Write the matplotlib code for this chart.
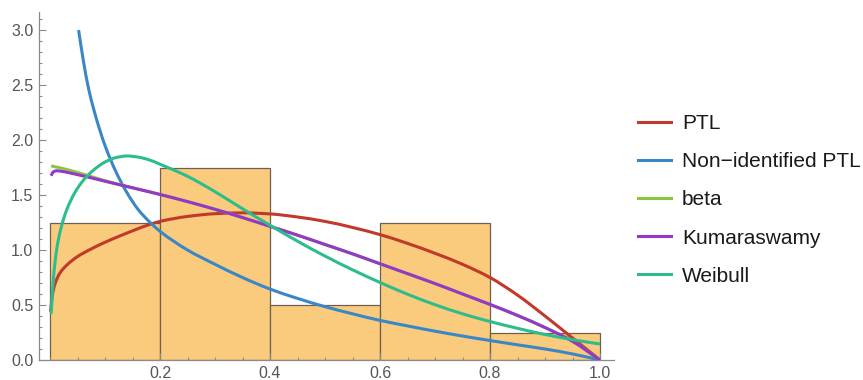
import matplotlib
matplotlib.use("Agg")
import numpy as np
import matplotlib.pyplot as plt
from matplotlib.path import Path
from matplotlib.patches import PathPatch
from matplotlib.lines import Line2D
from matplotlib.ticker import MultipleLocator

plt.rcParams['font.family'] = ['Liberation Sans', 'DejaVu Sans']

# Histogram of the sample (density scale)
bin_edges = [0.0, 0.2, 0.4, 0.6, 0.8, 1.0]
bin_density = [1.25, 1.75, 0.5, 1.25, 0.25]

# Fitted densities, sampled along x
ptl_x = [0.001, 0.004, 0.009, 0.018, 0.03, 0.05, 0.075, 0.1, 0.133, 0.18, 0.2,
         0.25, 0.3, 0.35, 0.4, 0.45, 0.5, 0.55, 0.6, 0.65, 0.7, 0.75, 0.8,
         0.85, 0.9, 0.95, 1.0]
ptl_y = [0.44, 0.58, 0.69, 0.79, 0.86, 0.94, 1.01, 1.07, 1.14, 1.23, 1.26,
         1.305, 1.33, 1.338, 1.328, 1.30, 1.26, 1.205, 1.14, 1.06, 0.97, 0.87, 0.75,
         0.59, 0.40, 0.20, 0.0]

nonid_x = [0.052, 0.06, 0.07, 0.08, 0.09, 0.1, 0.12, 0.14, 0.16, 0.18, 0.2,
           0.25, 0.3, 0.35, 0.4, 0.45, 0.5, 0.55, 0.6, 0.65, 0.7, 0.75, 0.8,
           0.85, 0.9, 0.95, 1.0]
nonid_y = [3.0, 2.74, 2.47, 2.27, 2.10, 1.95, 1.71, 1.52, 1.37, 1.26, 1.17,
           1.0, 0.87, 0.75, 0.645, 0.56, 0.485, 0.42, 0.36, 0.31, 0.262, 0.218, 0.177,
           0.138, 0.10, 0.055, 0.0]

beta_x = [0.002, 0.02, 0.05, 0.08, 0.1, 0.15, 0.2, 0.25, 0.3, 0.35, 0.4, 0.45,
          0.5, 0.55, 0.6, 0.65, 0.7, 0.75, 0.8, 0.85, 0.9, 0.95, 1.0]
beta_y = [1.764, 1.745, 1.705, 1.66, 1.63, 1.567, 1.505, 1.44, 1.37, 1.295, 1.215, 1.135,
          1.05, 0.965, 0.875, 0.785, 0.695, 0.60, 0.505, 0.405, 0.295, 0.17, 0.0]

kuma_x = [0.002, 0.006, 0.012, 0.02, 0.05, 0.1, 0.15, 0.2, 0.25, 0.3, 0.35, 0.4,
          0.45, 0.5, 0.55, 0.6, 0.65, 0.7, 0.75, 0.8, 0.85, 0.9, 0.95, 1.0]
kuma_y = [1.675, 1.71, 1.72, 1.716, 1.685, 1.625, 1.565, 1.505, 1.44, 1.37, 1.295, 1.215,
          1.135, 1.05, 0.965, 0.875, 0.785, 0.695, 0.60, 0.505, 0.405, 0.295, 0.17, 0.0]

weib_x = [0.002, 0.006, 0.012, 0.02, 0.03, 0.045, 0.06, 0.08, 0.1, 0.12, 0.14,
          0.16, 0.18, 0.2, 0.25, 0.3, 0.35, 0.4, 0.45, 0.5, 0.55, 0.6, 0.65,
          0.7, 0.75, 0.8, 0.85, 0.9, 0.95, 1.0]
weib_y = [0.42, 0.73, 1.0, 1.2, 1.36, 1.52, 1.63, 1.73, 1.80, 1.84, 1.855,
          1.845, 1.82, 1.78, 1.67, 1.53, 1.375, 1.225, 1.08, 0.945, 0.82, 0.705, 0.598,
          0.503, 0.42, 0.35, 0.288, 0.232, 0.185, 0.145]

series = [
    ("PTL", ptl_x, ptl_y, "#C0392B"),
    ("Non\u2212identified PTL", nonid_x, nonid_y, "#3A87C8"),
    ("beta", beta_x, beta_y, "#8CC63F"),
    ("Kumaraswamy", kuma_x, kuma_y, "#9338C8"),
    ("Weibull", weib_x, weib_y, "#2DBD8C"),
]


def smooth_path(xs, ys):
    """Monotone cubic (Fritsch-Carlson) curve through the samples as Bezier segments."""
    x = np.asarray(xs, float)
    y = np.asarray(ys, float)
    h = np.diff(x)
    d = np.diff(y) / h
    m = np.zeros_like(x)
    m[0], m[-1] = d[0], d[-1]
    for k in range(1, len(x) - 1):
        if d[k - 1] * d[k] <= 0:
            m[k] = 0.0
        else:
            w1 = 2 * h[k] + h[k - 1]
            w2 = h[k] + 2 * h[k - 1]
            m[k] = (w1 + w2) / (w1 / d[k - 1] + w2 / d[k])
    verts = [(x[0], y[0])]
    codes = [Path.MOVETO]
    for k in range(len(x) - 1):
        verts += [(x[k] + h[k] / 3, y[k] + m[k] * h[k] / 3),
                  (x[k + 1] - h[k] / 3, y[k + 1] - m[k + 1] * h[k] / 3),
                  (x[k + 1], y[k + 1])]
        codes += [Path.CURVE4] * 3
    return Path(verts, codes)


W, H = 863, 380
fig = plt.figure(figsize=(W / 100, H / 100), dpi=100)

x_lo, x_hi = -0.02, 1.025
y_lo, y_hi = 0.0, 3.16
px0, px_per = 50.0, 550.0
py0, py_per = 360.0, 110.0
left = px0 + px_per * x_lo
right = px0 + px_per * x_hi
top = py0 - py_per * y_hi
ax = fig.add_axes([left / W, (H - py0) / H, (right - left) / W, (py0 - top) / H])

widths = [bin_edges[i + 1] - bin_edges[i] for i in range(len(bin_density))]
ax.bar(bin_edges[:-1], bin_density, width=widths, align='edge',
       color='#FBCB7D', edgecolor='#6E6050', linewidth=0.9, zorder=1)

handles = []
for i, (label, xs, ys, col) in enumerate(series):
    patch = PathPatch(smooth_path(xs, ys), facecolor='none', edgecolor=col,
                      lw=2.2, zorder=2 + i, capstyle='butt', joinstyle='round')
    ax.add_patch(patch)
    handles.append(Line2D([], [], color=col, lw=2.2, label=label))

ax.set_xlim(x_lo, x_hi)
ax.set_ylim(y_lo, y_hi)

for s in ('top', 'right'):
    ax.spines[s].set_visible(False)
for s in ('left', 'bottom'):
    ax.spines[s].set_color('#8A8A8A')
    ax.spines[s].set_linewidth(0.9)

ax.set_xticks([0.2, 0.4, 0.6, 0.8, 1.0])
ax.set_xticklabels(['0.2', '0.4', '0.6', '0.8', '1.0'])
ax.xaxis.set_minor_locator(MultipleLocator(0.05))
ax.set_yticks([0.0, 0.5, 1.0, 1.5, 2.0, 2.5, 3.0])
ax.set_yticklabels(['0.0', '0.5', '1.0', '1.5', '2.0', '2.5', '3.0'])
ax.yaxis.set_minor_locator(MultipleLocator(0.1))
ax.tick_params(which='both', direction='in', color='#8A8A8A', width=0.8,
               labelcolor='#555555', labelsize=11.5)
ax.tick_params(which='major', length=5, pad=4)
ax.tick_params(which='minor', length=2.5)

leg = ax.legend(handles=handles, loc='upper left',
                bbox_to_anchor=(638 / W, 1 - 114 / H),
                bbox_transform=fig.transFigure, frameon=False,
                fontsize=15, handlelength=1.6, handletextpad=0.5,
                labelspacing=0.92, borderpad=0, borderaxespad=0)
for t in leg.get_texts():
    t.set_color('#1A1A1A')

fig.savefig('out.png', dpi=100)
